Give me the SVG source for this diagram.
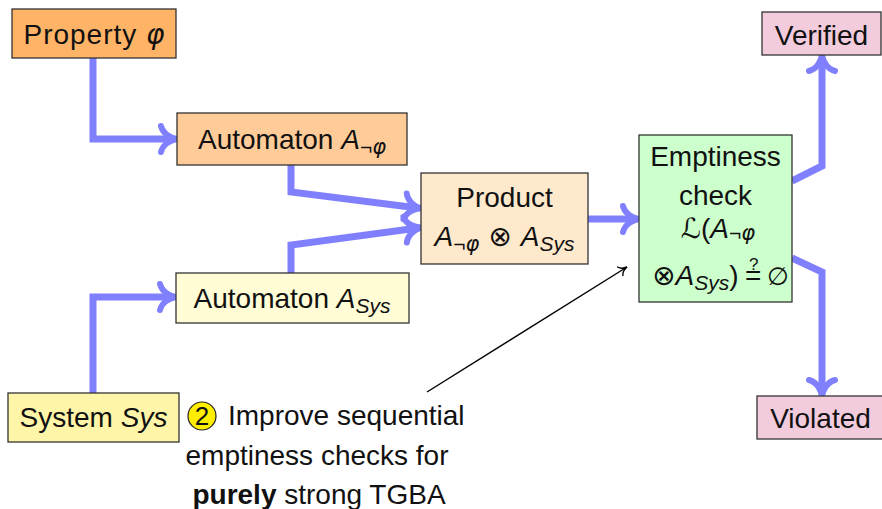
<svg xmlns="http://www.w3.org/2000/svg" width="882" height="509" viewBox="0 0 882 509">
  <style>
    text { font-family: "Liberation Sans", "DejaVu Sans", sans-serif; font-size: 28px; fill: #111; }
    .box { stroke: #333; stroke-width: 1.3; }
    .mi { font-style: italic; }
    .sub { font-size: 21px; }
    .sym { font-family: "DejaVu Sans", sans-serif; }
    .wire { fill: none; stroke: #8080FF; stroke-width: 7; stroke-linejoin: miter; }
    .note { fill: none; stroke: #000; stroke-width: 1.4; }
  </style>
  <defs>
    <marker id="head" markerUnits="userSpaceOnUse" orient="auto" refX="0" refY="0" markerWidth="40" markerHeight="40" overflow="visible">
      <path d="M-13,-13 C-11,-5 -3,-1 3,0 C-3,1 -11,5 -13,13" fill="none" stroke="#8080FF" stroke-width="6" stroke-linecap="round" stroke-linejoin="round"/>
    </marker>
    <marker id="thin" markerUnits="userSpaceOnUse" orient="auto" refX="0" refY="0" markerWidth="20" markerHeight="20" overflow="visible">
      <path d="M-8,-5 C-6.5,-2 -2.5,-0.4 0,0 C-2.5,0.4 -6.5,2 -8,5" fill="none" stroke="#000" stroke-width="1.4" stroke-linecap="round"/>
    </marker>
  </defs>

  <!-- connectors -->
  <g id="connectors">
    <path class="wire" d="M93,58 V139 H174" marker-end="url(#head)"/>
    <path class="wire" d="M291,165 V192 L418,208" marker-end="url(#head)"/>
    <path class="wire" d="M291,273 V245 L418,228" marker-end="url(#head)"/>
    <path class="wire" d="M93,393 V297 H173" marker-end="url(#head)"/>
    <path class="wire" d="M588,219 H636" marker-end="url(#head)"/>
    <path class="wire" d="M792,181 L822,166 V58" marker-end="url(#head)"/>
    <path class="wire" d="M792,258 L822,272 V393" marker-end="url(#head)"/>
    <path class="note" d="M427,392 L627,267" marker-end="url(#thin)"/>
  </g>

  <g id="property">
    <rect class="box" x="12" y="9" width="164" height="49" fill="#FFB366"/>
    <text x="94" y="44" text-anchor="middle" textLength="141">Property <tspan class="sym mi">φ</tspan></text>
  </g>

  <g id="automaton-neg">
    <rect class="box" x="177" y="113" width="230" height="52" fill="#FFCC99"/>
    <text x="292" y="149" text-anchor="middle">Automaton <tspan class="mi">A</tspan><tspan class="sub" dy="5">¬</tspan><tspan class="sub sym mi">φ</tspan></text>
  </g>

  <g id="automaton-sys">
    <rect class="box" x="176" y="273" width="233" height="50" fill="#FFFCD6"/>
    <text x="292" y="308" text-anchor="middle">Automaton <tspan class="mi">A</tspan><tspan class="sub mi" dy="5">Sys</tspan></text>
  </g>

  <g id="product">
    <rect class="box" x="421" y="173" width="167" height="91" fill="#FFE9CC"/>
    <text x="504.5" y="207" text-anchor="middle">Product</text>
    <text x="504.5" y="246" text-anchor="middle"><tspan class="mi">A</tspan><tspan class="sub" dy="5">¬</tspan><tspan class="sub sym mi">φ</tspan><tspan class="sym" dy="-5"> ⊗ </tspan><tspan class="mi">A</tspan><tspan class="sub mi" dy="5">Sys</tspan></text>
  </g>

  <g id="emptiness">
    <rect class="box" x="639" y="135" width="153" height="167" fill="#CCFFCC"/>
    <text x="715.5" y="166" text-anchor="middle">Emptiness</text>
    <text x="715.5" y="205" text-anchor="middle">check</text>
    <text x="718" y="238" text-anchor="middle"><tspan class="sym mi">ℒ</tspan>(<tspan class="mi">A</tspan><tspan class="sub" dy="2">¬</tspan><tspan class="sub sym mi">φ</tspan></text>
    <text x="652" y="285"><tspan class="sym">⊗</tspan><tspan class="mi">A</tspan><tspan class="sub mi" dy="5">Sys</tspan><tspan dy="-5">)</tspan><tspan x="745" y="285">=</tspan><tspan x="749" y="270" style="font-size:17px">?</tspan><tspan x="767" y="285" class="sym" style="font-size:25px">∅</tspan></text>
  </g>

  <g id="verified">
    <rect class="box" x="762" y="12" width="119" height="43" fill="#F2CCDC"/>
    <text x="821.5" y="45" text-anchor="middle">Verified</text>
  </g>

  <g id="violated">
    <rect class="box" x="757" y="396" width="128" height="43" fill="#F2CCDC"/>
    <text x="820.5" y="428" text-anchor="middle">Violated</text>
  </g>

  <g id="system">
    <rect class="box" x="8" y="393" width="171" height="49" fill="#FFF5A8"/>
    <text x="93.5" y="427" text-anchor="middle">System <tspan class="mi">Sys</tspan></text>
  </g>

  <g id="annotation">
    <circle cx="202" cy="416" r="14" fill="#FFEE00" stroke="#222" stroke-width="1.2"/>
    <text x="202" y="425" text-anchor="middle" style="font-size:26px">2</text>
    <text x="228" y="425">Improve sequential</text>
    <text x="317" y="465" text-anchor="middle">emptiness checks for</text>
    <text x="319" y="504" text-anchor="middle"><tspan font-weight="bold">purely</tspan> strong TGBA</text>
  </g>
</svg>
